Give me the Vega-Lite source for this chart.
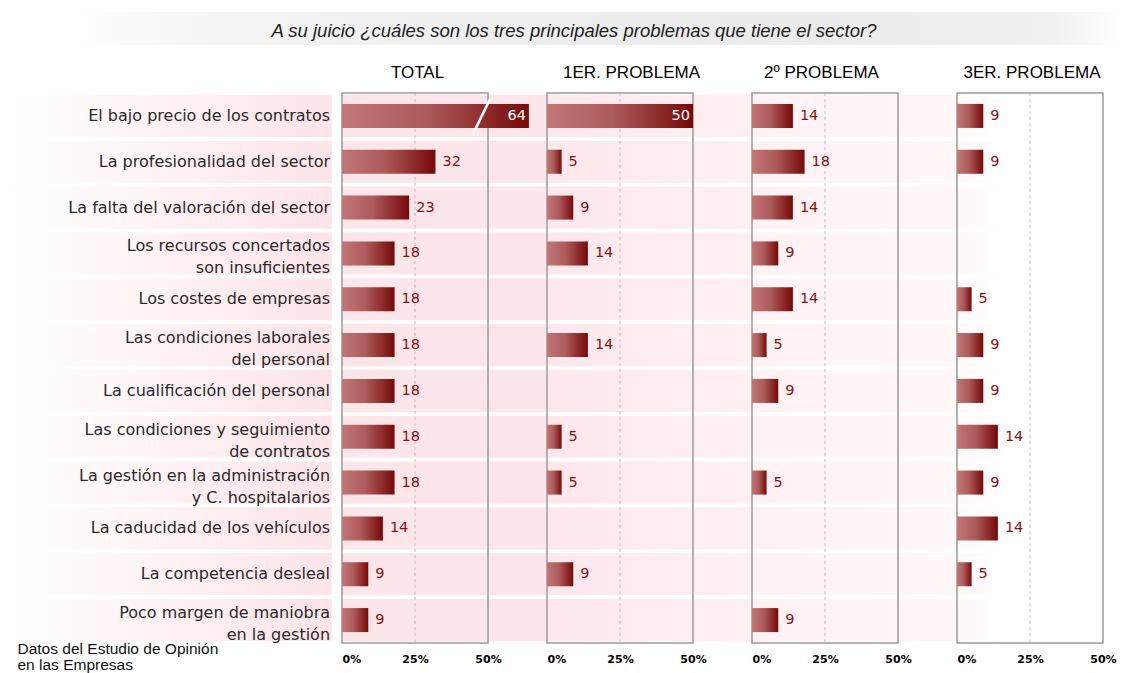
{
  "$schema": "https://vega.github.io/schema/vega-lite/v6.json",
  "padding": {"left": 0, "top": 12, "right": 0, "bottom": 0},
  "background": "white",
  "datasets": {
    "rows": [
      {"id": "p01", "label": "El bajo precio de los contratos", "total": 64, "p1": 50, "p2": 14, "p3": 9},
      {"id": "p02", "label": "La profesionalidad del sector", "total": 32, "p1": 5, "p2": 18, "p3": 9},
      {"id": "p03", "label": "La falta del valoración del sector", "total": 23, "p1": 9, "p2": 14, "p3": null},
      {"id": "p04", "label": "Los recursos concertados |son insuficientes", "total": 18, "p1": 14, "p2": 9, "p3": null},
      {"id": "p05", "label": "Los costes de empresas", "total": 18, "p1": null, "p2": 14, "p3": 5},
      {"id": "p06", "label": "Las condiciones laborales |del personal", "total": 18, "p1": 14, "p2": 5, "p3": 9},
      {"id": "p07", "label": "La cualificación del personal", "total": 18, "p1": null, "p2": 9, "p3": 9},
      {"id": "p08", "label": "Las condiciones y seguimiento|de contratos", "total": 18, "p1": 5, "p2": null, "p3": 14},
      {"id": "p09", "label": "La gestión en la administración|y C. hospitalarios", "total": 18, "p1": 5, "p2": 5, "p3": 9},
      {"id": "p10", "label": "La caducidad de los vehículos", "total": 14, "p1": null, "p2": null, "p3": 14},
      {"id": "p11", "label": "La competencia desleal", "total": 9, "p1": 9, "p2": null, "p3": 5},
      {"id": "p12", "label": "Poco margen de maniobra|en la gestión", "total": 9, "p1": null, "p2": 9, "p3": null}
    ]
  },
  "config": {
    "view": {"stroke": null},
    "font": "DejaVu Sans",
    "title": {"font": "Liberation Sans", "fontSize": 17, "fontWeight": "normal", "color": "#000000", "offset": 10},
    "axisX": {"ticks": false, "domain": false, "grid": false, "labelFont": "DejaVu Sans", "labelFontWeight": "bold", "labelFontSize": 11, "labelColor": "#000000", "labelPadding": 10}
  },
  "spacing": 19,
  "vconcat": [
    {
      "width": 1134,
      "height": 33,
      "data": {"values": [{"title": "A su juicio ¿cuáles son los tres principales problemas que tiene el sector?"}]},
      "view": {
        "stroke": null,
        "fill": {"gradient": "linear", "x1": 0, "y1": 0, "x2": 1, "y2": 0, "stops": [
          {"offset": 0, "color": "#ffffff"},
          {"offset": 0.06, "color": "#ffffff"},
          {"offset": 0.2, "color": "#f3f3f3"},
          {"offset": 0.7, "color": "#ebebeb"},
          {"offset": 0.93, "color": "#f1f1f1"},
          {"offset": 0.99, "color": "#ffffff"}
        ]}
      },
      "mark": {"type": "text", "font": "Liberation Sans", "fontStyle": "italic", "fontSize": 18.5, "color": "#222222", "dx": 7, "dy": 2},
      "encoding": {"text": {"field": "title"}}
    },
    {
      "hconcat": [
        {
          "width": 342,
          "height": 550,
          "title": {"text": " "},
          "data": {"name": "rows"},
          "layer": [
            {
              "mark": {"type": "rect", "fill": {"gradient": "linear", "x1": 0, "y1": 0, "x2": 1, "y2": 0, "stops": [
                {"offset": 0, "color": "#ffffff"},
                {"offset": 0.25, "color": "#fff9fa"},
                {"offset": 1, "color": "#fde4e8"}
              ]}},
              "encoding": {
                "y": {"field": "id", "type": "nominal", "axis": null, "scale": {"paddingInner": 0.08, "paddingOuter": 0.04}},
                "x": {"datum": 0, "type": "quantitative", "scale": {"domain": [0, 1], "nice": false, "zero": false},
                  "axis": {"labels": false, "title": ["Datos del Estudio de Opinión", "en las Empresas"], "titleFont": "Liberation Sans", "titleFontSize": 15.5, "titleFontWeight": "normal", "titleColor": "#111111", "titleAnchor": "start", "titleAlign": "left", "titleBaseline": "top", "titleX": 17, "titleY": -2, "titleLineHeight": 16}},
                "x2": {"datum": 0.97}
              }
            },
            {
              "transform": [{"filter": "indexof(datum.label, '|') < 0"}],
              "mark": {"type": "text", "align": "right", "fontSize": 16, "color": "#2a2a2a"},
              "encoding": {
                "y": {"field": "id", "type": "nominal"},
                "x": {"datum": 0.965, "type": "quantitative"},
                "text": {"field": "label"}
              }
            },
            {
              "transform": [{"filter": "indexof(datum.label, '|') >= 0"}],
              "mark": {"type": "text", "align": "right", "lineBreak": "|", "fontSize": 16, "color": "#2a2a2a", "lineHeight": 22, "dy": -7},
              "encoding": {
                "y": {"field": "id", "type": "nominal"},
                "x": {"datum": 0.965, "type": "quantitative"},
                "text": {"field": "label"}
              }
            }
          ]
        },
        {
          "width": 205,
          "height": 550,
          "title": {"text": "TOTAL", "dx": -27},
          "data": {"name": "rows"},
          "layer": [
            {
              "mark": {"type": "rect", "fill": "#fde6ea"},
              "encoding": {
                "y": {"field": "id", "type": "nominal", "axis": null, "scale": {"paddingInner": 0.08, "paddingOuter": 0.04}},
                "x": {"datum": 0, "type": "quantitative", "scale": {"domain": [0, 70.2], "nice": false, "zero": false}, "axis": {"values": [0, 25, 50], "labelExpr": "datum.value + '%'", "title": null}},
                "x2": {"datum": 70.2}
              }
            },
            {
              "data": {"values": [{}]},
              "mark": {"type": "rule", "stroke": "#bdbdbd", "strokeDash": [3, 3]},
              "encoding": {"x": {"datum": 25, "type": "quantitative"}}
            },
            {
              "data": {"values": [{}]},
              "mark": {"type": "rect", "fill": "transparent", "stroke": "#9a9a9a", "strokeWidth": 1.5},
              "encoding": {"x": {"datum": 0, "type": "quantitative"}, "x2": {"datum": 50}}
            },
            {
              "mark": {"type": "bar", "height": {"band": 0.57}, "fill": {"gradient": "linear", "x1": 0, "y1": 0, "x2": 1, "y2": 0, "stops": [
                {"offset": 0, "color": "#c27676"},
                {"offset": 0.45, "color": "#ad5b5b"},
                {"offset": 1, "color": "#760808"}
              ]}},
              "encoding": {"y": {"field": "id", "type": "nominal"}, "x": {"field": "total", "type": "quantitative"}}
            },
            {
              "transform": [{"filter": "isValid(datum.total) && datum.total < 50"}],
              "mark": {"type": "text", "align": "left", "dx": 7, "fill": "#8b1010", "fontSize": 14.5},
              "encoding": {"y": {"field": "id", "type": "nominal"}, "x": {"field": "total", "type": "quantitative"}, "text": {"field": "total"}}
            },
            {
              "transform": [{"filter": "datum.total >= 50"}],
              "mark": {"type": "text", "align": "right", "dx": -3, "fill": "#ffffff", "fontSize": 14.5},
              "encoding": {"y": {"field": "id", "type": "nominal"}, "x": {"field": "total", "type": "quantitative"}, "text": {"field": "total"}}
            },
            {
              "data": {"values": [{}]},
              "mark": {"type": "rule", "stroke": "#ffffff", "strokeWidth": 2.5, "yOffset": 18, "y2Offset": -17},
              "encoding": {
                "x": {"datum": 44.9, "type": "quantitative"},
                "x2": {"datum": 50.7},
                "y": {"datum": "p01", "type": "nominal", "bandPosition": 0.5},
                "y2": {"datum": "p01", "bandPosition": 0.5}
              }
            }
          ]
        },
        {
          "width": 205,
          "height": 550,
          "title": {"text": "1ER. PROBLEMA", "dx": -18},
          "data": {"name": "rows"},
          "layer": [
            {
              "mark": {"type": "rect", "fill": {"gradient": "linear", "x1": 0, "y1": 0, "x2": 1, "y2": 0, "stops": [
                {"offset": 0, "color": "#fde8ec"},
                {"offset": 1, "color": "#fff0f2"}
              ]}},
              "encoding": {
                "y": {"field": "id", "type": "nominal", "axis": null, "scale": {"paddingInner": 0.08, "paddingOuter": 0.04}},
                "x": {"datum": 0, "type": "quantitative", "scale": {"domain": [0, 70.2], "nice": false, "zero": false}, "axis": {"values": [0, 25, 50], "labelExpr": "datum.value + '%'", "title": null}},
                "x2": {"datum": 70.2}
              }
            },
            {
              "data": {"values": [{}]},
              "mark": {"type": "rule", "stroke": "#bdbdbd", "strokeDash": [3, 3]},
              "encoding": {"x": {"datum": 25, "type": "quantitative"}}
            },
            {
              "data": {"values": [{}]},
              "mark": {"type": "rect", "fill": "transparent", "stroke": "#9a9a9a", "strokeWidth": 1.5},
              "encoding": {"x": {"datum": 0, "type": "quantitative"}, "x2": {"datum": 50}}
            },
            {
              "mark": {"type": "bar", "height": {"band": 0.57}, "fill": {"gradient": "linear", "x1": 0, "y1": 0, "x2": 1, "y2": 0, "stops": [
                {"offset": 0, "color": "#c27676"},
                {"offset": 0.45, "color": "#ad5b5b"},
                {"offset": 1, "color": "#760808"}
              ]}},
              "encoding": {"y": {"field": "id", "type": "nominal"}, "x": {"field": "p1", "type": "quantitative"}}
            },
            {
              "transform": [{"filter": "isValid(datum.p1) && datum.p1 < 50"}],
              "mark": {"type": "text", "align": "left", "dx": 7, "fill": "#8b1010", "fontSize": 14.5},
              "encoding": {"y": {"field": "id", "type": "nominal"}, "x": {"field": "p1", "type": "quantitative"}, "text": {"field": "p1"}}
            },
            {
              "transform": [{"filter": "datum.p1 >= 50"}],
              "mark": {"type": "text", "align": "right", "dx": -3, "fill": "#ffffff", "fontSize": 14.5},
              "encoding": {"y": {"field": "id", "type": "nominal"}, "x": {"field": "p1", "type": "quantitative"}, "text": {"field": "p1"}}
            }
          ]
        },
        {
          "width": 205,
          "height": 550,
          "title": {"text": "2º PROBLEMA", "dx": -33},
          "data": {"name": "rows"},
          "layer": [
            {
              "mark": {"type": "rect", "fill": {"gradient": "linear", "x1": 0, "y1": 0, "x2": 1, "y2": 0, "stops": [
                {"offset": 0, "color": "#fff2f4"},
                {"offset": 1, "color": "#fff7f8"}
              ]}},
              "encoding": {
                "y": {"field": "id", "type": "nominal", "axis": null, "scale": {"paddingInner": 0.08, "paddingOuter": 0.04}},
                "x": {"datum": 0, "type": "quantitative", "scale": {"domain": [0, 70.2], "nice": false, "zero": false}, "axis": {"values": [0, 25, 50], "labelExpr": "datum.value + '%'", "title": null}},
                "x2": {"datum": 70.2}
              }
            },
            {
              "data": {"values": [{}]},
              "mark": {"type": "rule", "stroke": "#bdbdbd", "strokeDash": [3, 3]},
              "encoding": {"x": {"datum": 25, "type": "quantitative"}}
            },
            {
              "data": {"values": [{}]},
              "mark": {"type": "rect", "fill": "transparent", "stroke": "#9a9a9a", "strokeWidth": 1.5},
              "encoding": {"x": {"datum": 0, "type": "quantitative"}, "x2": {"datum": 50}}
            },
            {
              "mark": {"type": "bar", "height": {"band": 0.57}, "fill": {"gradient": "linear", "x1": 0, "y1": 0, "x2": 1, "y2": 0, "stops": [
                {"offset": 0, "color": "#c27676"},
                {"offset": 0.45, "color": "#ad5b5b"},
                {"offset": 1, "color": "#760808"}
              ]}},
              "encoding": {"y": {"field": "id", "type": "nominal"}, "x": {"field": "p2", "type": "quantitative"}}
            },
            {
              "transform": [{"filter": "isValid(datum.p2)"}],
              "mark": {"type": "text", "align": "left", "dx": 7, "fill": "#8b1010", "fontSize": 14.5},
              "encoding": {"y": {"field": "id", "type": "nominal"}, "x": {"field": "p2", "type": "quantitative"}, "text": {"field": "p2"}}
            }
          ]
        },
        {
          "width": 160,
          "height": 550,
          "title": {"text": "3ER. PROBLEMA", "dx": -5},
          "data": {"name": "rows"},
          "layer": [
            {
              "mark": {"type": "rect", "fill": {"gradient": "linear", "x1": 0, "y1": 0, "x2": 1, "y2": 0, "stops": [
                {"offset": 0, "color": "#fff8f9"},
                {"offset": 1, "color": "#ffffff"}
              ]}},
              "encoding": {
                "y": {"field": "id", "type": "nominal", "axis": null, "scale": {"paddingInner": 0.08, "paddingOuter": 0.04}},
                "x": {"datum": 0, "type": "quantitative", "scale": {"domain": [0, 54.8], "nice": false, "zero": false}, "axis": {"values": [0, 25, 50], "labelExpr": "datum.value + '%'", "title": null}},
                "x2": {"datum": 17}
              }
            },
            {
              "data": {"values": [{}]},
              "mark": {"type": "rule", "stroke": "#bdbdbd", "strokeDash": [3, 3]},
              "encoding": {"x": {"datum": 25, "type": "quantitative"}}
            },
            {
              "data": {"values": [{}]},
              "mark": {"type": "rect", "fill": "transparent", "stroke": "#9a9a9a", "strokeWidth": 1.5},
              "encoding": {"x": {"datum": 0, "type": "quantitative"}, "x2": {"datum": 50}}
            },
            {
              "mark": {"type": "bar", "height": {"band": 0.57}, "fill": {"gradient": "linear", "x1": 0, "y1": 0, "x2": 1, "y2": 0, "stops": [
                {"offset": 0, "color": "#c27676"},
                {"offset": 0.45, "color": "#ad5b5b"},
                {"offset": 1, "color": "#760808"}
              ]}},
              "encoding": {"y": {"field": "id", "type": "nominal"}, "x": {"field": "p3", "type": "quantitative"}}
            },
            {
              "transform": [{"filter": "isValid(datum.p3)"}],
              "mark": {"type": "text", "align": "left", "dx": 7, "fill": "#8b1010", "fontSize": 14.5},
              "encoding": {"y": {"field": "id", "type": "nominal"}, "x": {"field": "p3", "type": "quantitative"}, "text": {"field": "p3"}}
            }
          ]
        }
      ],
      "spacing": 0,
      "bounds": "flush"
    }
  ]
}
